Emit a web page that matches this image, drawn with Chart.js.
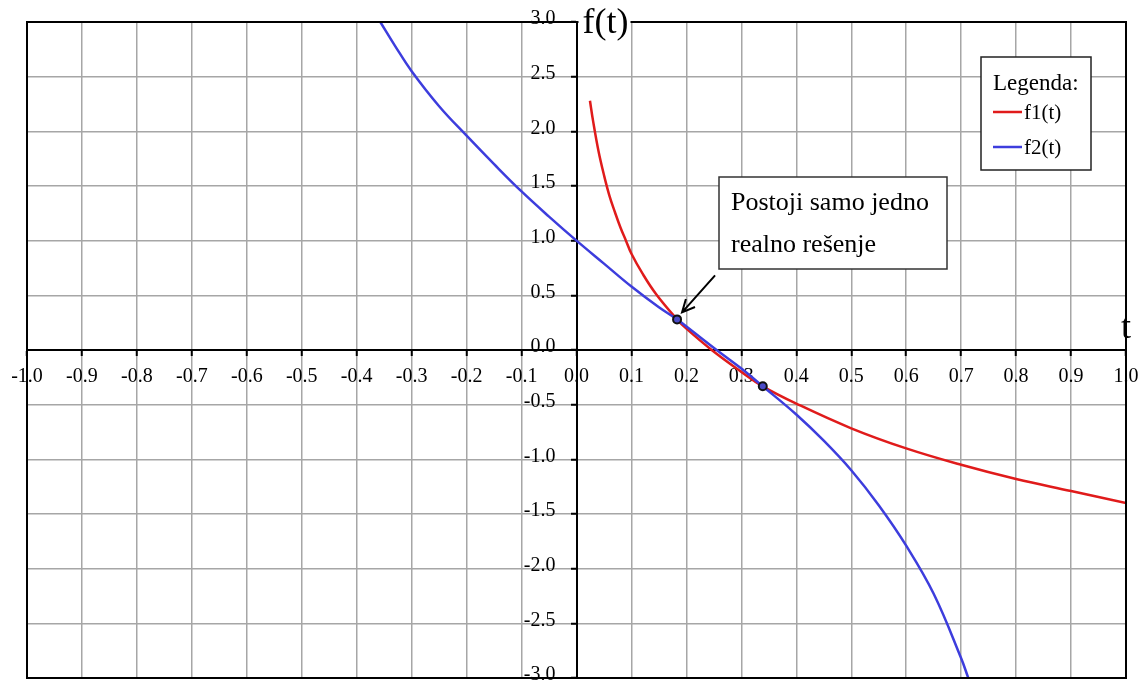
<!DOCTYPE html>
<html>
<head>
<meta charset="utf-8">
<script src="https://cdn.jsdelivr.net/npm/chart.js@4/dist/chart.umd.min.js"></script>
<style>
  html, body { margin: 0; padding: 0; background: #fff; }
</style>
</head>
<body>
<canvas id="chart" width="1143" height="686"></canvas>
<script>
// f1(t) - red curve
const f1T = [0.0245, 0.03, 0.04, 0.05, 0.06, 0.07, 0.08, 0.09, 0.1, 0.12, 0.145, 0.183, 0.2, 0.246, 0.3, 0.339, 0.4, 0.5, 0.6, 0.7, 0.8, 0.9, 1.0];
const f1Y = [2.28, 2.1, 1.82, 1.6, 1.41, 1.26, 1.12, 1.0, 0.88, 0.7, 0.51, 0.28, 0.195, 0.0, -0.2, -0.332, -0.49, -0.716, -0.9, -1.05, -1.18, -1.29, -1.40];

// f2(t) - blue curve
const f2T = [-0.357, -0.33, -0.3, -0.25, -0.2, -0.15, -0.1, -0.05, 0, 0.05, 0.1, 0.15, 0.183, 0.2, 0.255, 0.3, 0.339, 0.4, 0.45, 0.5, 0.55, 0.6, 0.65, 0.7, 0.713];
const f2Y = [3.0, 2.78, 2.55, 2.23, 1.96, 1.70, 1.45, 1.22, 1.0, 0.79, 0.58, 0.39, 0.28, 0.215, 0.0, -0.17, -0.332, -0.59, -0.83, -1.10, -1.42, -1.79, -2.23, -2.82, -3.0];

// intersections
const rootT = [0.183, 0.339];
const rootY = [0.28, -0.332];

const xTickLabels = ["-1.0", "-0.9", "-0.8", "-0.7", "-0.6", "-0.5", "-0.4", "-0.3", "-0.2", "-0.1", "0.0",
  "0.1", "0.2", "0.3", "0.4", "0.5", "0.6", "0.7", "0.8", "0.9", "1.0"];
const yTickLabels = ["-3.0", "-2.5", "-2.0", "-1.5", "-1.0", "-0.5", "0.0", "0.5", "1.0", "1.5", "2.0", "2.5", "3.0"];

const legendTitle = "Legenda:";
const noteLines = ["Postoji samo jedno", "realno rešenje"];

const serif = '"Liberation Serif", "Times New Roman", serif';
Chart.defaults.font.family = serif;
Chart.defaults.color = "#000";

function toPoints(ts, ys) {
  return ts.map((t, i) => ({ x: t, y: ys[i] }));
}

function noPadding(s) {
  s.paddingTop = 0;
  s.paddingBottom = 0;
  s.paddingLeft = 0;
  s.paddingRight = 0;
}

// frame, y tick labels, axis names, legend box and the note with its arrow
const extras = {
  id: "extras",
  afterDraw(chart) {
    const { ctx, chartArea: a, scales } = chart;
    const x0 = scales.x.getPixelForValue(0);
    const y0 = scales.y.getPixelForValue(0);
    ctx.save();

    ctx.strokeStyle = "#000";
    ctx.lineWidth = 2;
    ctx.strokeRect(a.left, a.top, a.right - a.left, a.bottom - a.top);

    // y tick labels, left of the centred axis
    ctx.fillStyle = "#000";
    ctx.font = "20px " + serif;
    ctx.textAlign = "right";
    ctx.textBaseline = "middle";
    scales.y.ticks.forEach((t, i) => {
      ctx.fillText(yTickLabels[i], x0 - 21, scales.y.getPixelForValue(t.value) - 3);
    });

    // f(t)
    ctx.fillStyle = "#fff";
    ctx.fillRect(x0 + 2, 0, 52, 42);
    ctx.fillStyle = "#000";
    ctx.font = "36px " + serif;
    ctx.textBaseline = "alphabetic";
    ctx.textAlign = "left";
    ctx.fillText("f(t)", x0 + 6, 33);

    // t
    ctx.textAlign = "center";
    ctx.fillText("t", scales.x.getPixelForValue(1), y0 - 12);

    // legend
    const lx = 981, ly = 57, lw = 110, lh = 113;
    ctx.fillStyle = "#fff";
    ctx.fillRect(lx, ly, lw, lh);
    ctx.strokeStyle = "#222";
    ctx.lineWidth = 1.5;
    ctx.strokeRect(lx, ly, lw, lh);
    ctx.fillStyle = "#000";
    ctx.textAlign = "left";
    ctx.font = "23px " + serif;
    ctx.fillText(legendTitle, lx + 12, ly + 33);
    ctx.font = "21px " + serif;
    chart.data.datasets.slice(0, 2).forEach((ds, i) => {
      const yy = ly + 55 + i * 35;
      ctx.strokeStyle = ds.borderColor;
      ctx.lineWidth = 2.5;
      ctx.beginPath();
      ctx.moveTo(lx + 12, yy);
      ctx.lineTo(lx + 41, yy);
      ctx.stroke();
      ctx.fillStyle = "#000";
      ctx.fillText(ds.label, lx + 43, yy + 7);
    });

    // note box
    const bx = 719, by = 177, bw = 228, bh = 92;
    ctx.fillStyle = "#fff";
    ctx.fillRect(bx, by, bw, bh);
    ctx.strokeStyle = "#333";
    ctx.lineWidth = 1.5;
    ctx.strokeRect(bx, by, bw, bh);
    ctx.fillStyle = "#000";
    ctx.font = "26px " + serif;
    ctx.fillText(noteLines[0], bx + 12, by + 33);
    ctx.fillText(noteLines[1], bx + 12, by + 75);

    // arrow to the first intersection
    const px = scales.x.getPixelForValue(rootT[0]);
    const py = scales.y.getPixelForValue(rootY[0]);
    const tx = px + 5, ty = py - 7;
    const sx = tx + 33, sy = ty - 37;
    const ang = Math.atan2(ty - sy, tx - sx);
    ctx.strokeStyle = "#000";
    ctx.lineWidth = 2;
    ctx.beginPath();
    ctx.moveTo(sx, sy);
    ctx.lineTo(tx, ty);
    ctx.moveTo(tx - 14 * Math.cos(ang - 0.45), ty - 14 * Math.sin(ang - 0.45));
    ctx.lineTo(tx, ty);
    ctx.lineTo(tx - 14 * Math.cos(ang + 0.45), ty - 14 * Math.sin(ang + 0.45));
    ctx.stroke();

    ctx.restore();
  }
};

new Chart(document.getElementById("chart"), {
  type: "scatter",
  data: {
    datasets: [
      {
        label: "f1(t)",
        data: toPoints(f1T, f1Y),
        showLine: true,
        borderColor: "#e01b1b",
        borderWidth: 2.5,
        pointRadius: 0,
        tension: 0.4,
        order: 2
      },
      {
        label: "f2(t)",
        data: toPoints(f2T, f2Y),
        showLine: true,
        borderColor: "#3d3ddd",
        borderWidth: 2.5,
        pointRadius: 0,
        tension: 0.4,
        order: 1
      },
      {
        label: "roots",
        data: toPoints(rootT, rootY),
        showLine: false,
        pointRadius: 4,
        pointBorderWidth: 2,
        pointBorderColor: "#111",
        pointBackgroundColor: "#4b4bc8",
        order: 0
      }
    ]
  },
  options: {
    responsive: false,
    animation: false,
    devicePixelRatio: 1,
    layout: { padding: { left: 27, right: 17, top: 22, bottom: 8 } },
    plugins: { legend: { display: false }, tooltip: { enabled: false } },
    scales: {
      x: {
        type: "linear",
        min: -1,
        max: 1,
        position: { y: 0 },
        afterFit: s => { s.height = 0; noPadding(s); },
        afterBuildTicks: s => { s.ticks = xTickLabels.map(l => ({ value: parseFloat(l) })); },
        grid: { color: "#a6a6a6", lineWidth: 1.5, tickLength: 5, tickColor: "#000", tickWidth: 2 },
        border: { color: "#000", width: 2 },
        ticks: {
          font: { size: 20 },
          padding: 10,
          maxRotation: 0,
          autoSkip: false,
          callback: (v, i) => xTickLabels[i]
        }
      },
      y: {
        type: "linear",
        min: -3,
        max: 3,
        position: { x: 0 },
        afterFit: s => { s.width = 0; noPadding(s); },
        afterBuildTicks: s => { s.ticks = yTickLabels.map(l => ({ value: parseFloat(l) })); },
        grid: { color: "#a6a6a6", lineWidth: 1.5, tickLength: 5, tickColor: "#000", tickWidth: 2 },
        border: { color: "#000", width: 2 },
        ticks: { display: false }
      }
    }
  },
  plugins: [extras]
});
</script>
</body>
</html>
